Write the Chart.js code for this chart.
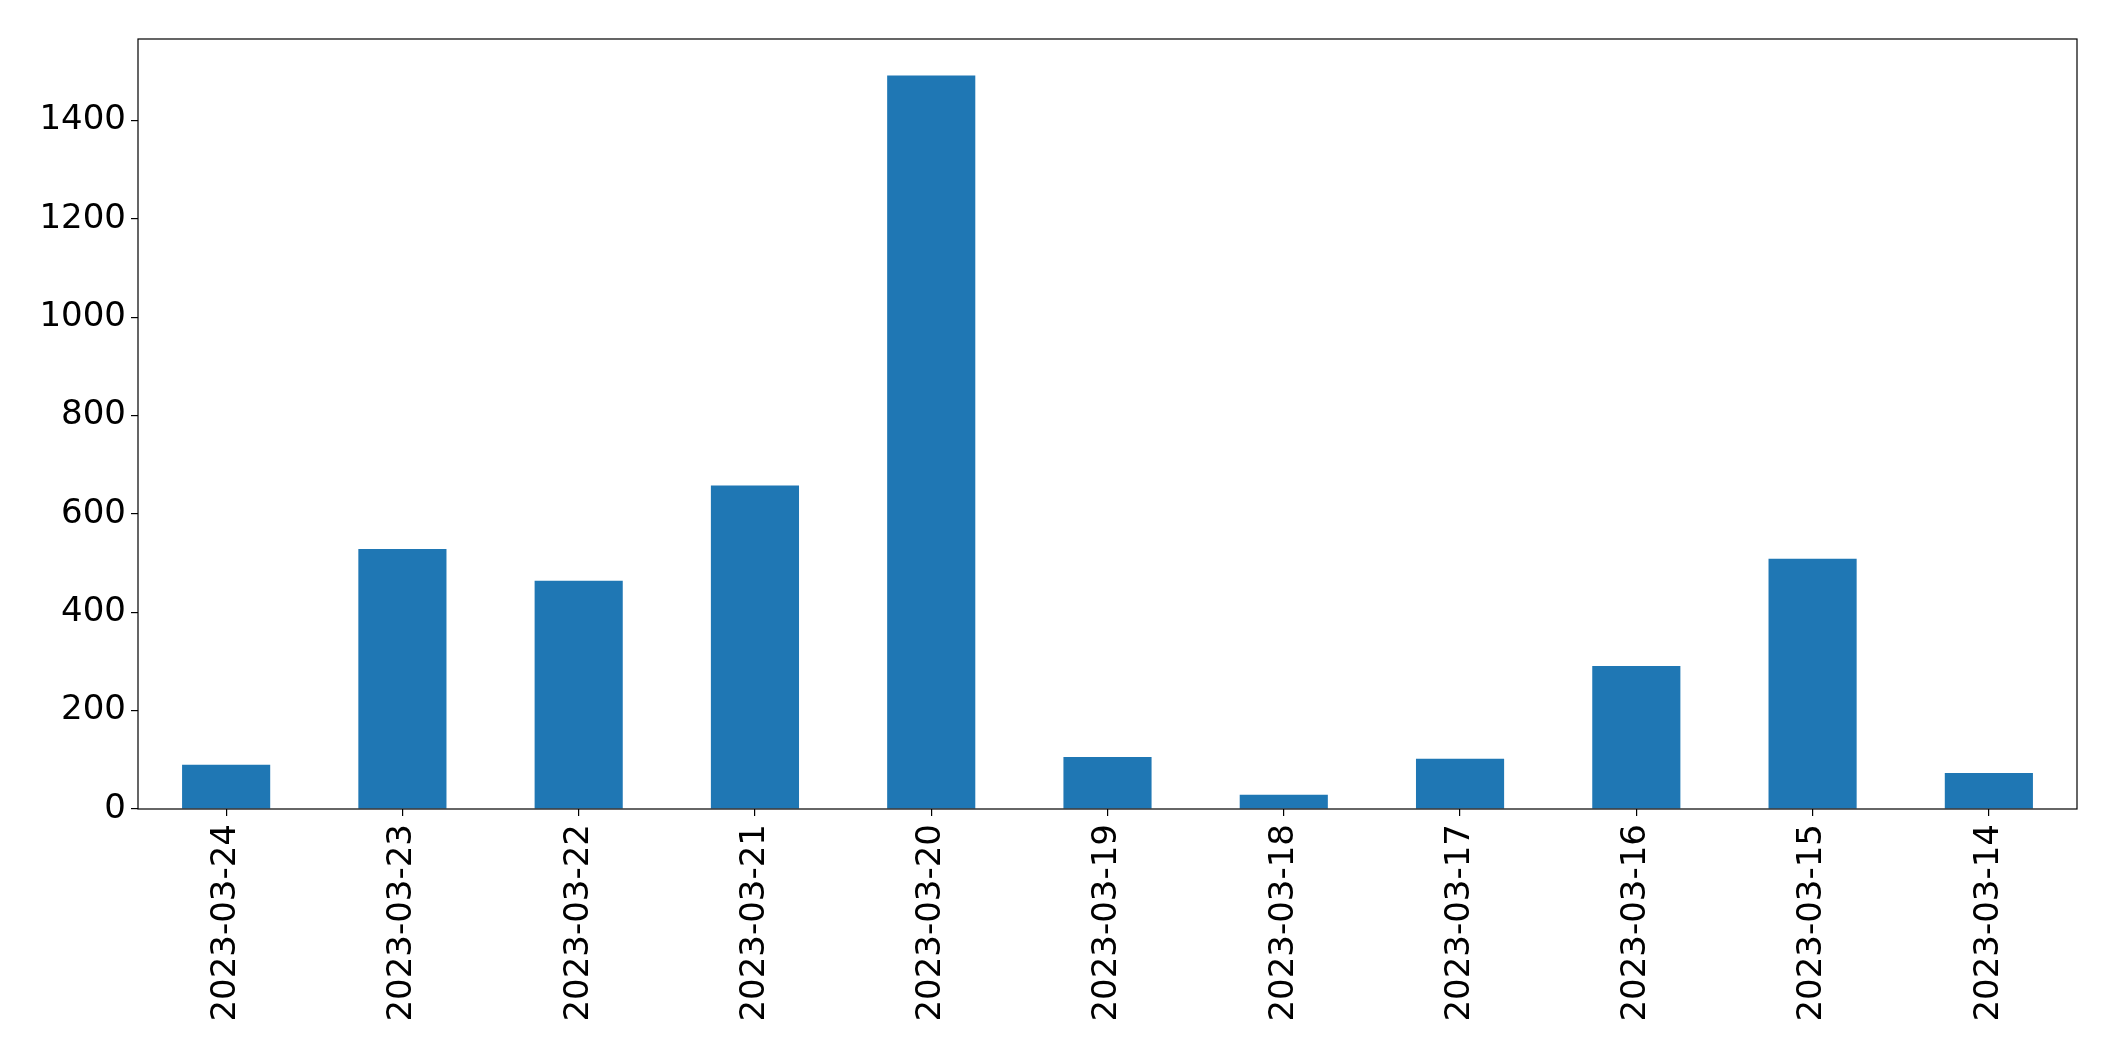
<!DOCTYPE html>
<html>
<head>
<meta charset="utf-8">
<script src="https://cdn.jsdelivr.net/npm/chart.js@4"></script>
<style>
    html, body { margin: 0; padding: 0; background: #fff; }
    #wrap { width: 2115px; height: 1061px; }
</style>
</head>
<body>
<div id="wrap"><canvas id="barChart" width="2115" height="1061"></canvas></div>
<script>
// values
const dates = ["2023-03-24", "2023-03-23", "2023-03-22", "2023-03-21", "2023-03-20", "2023-03-19",
    "2023-03-18", "2023-03-17", "2023-03-16", "2023-03-15", "2023-03-14"];
const counts = [90, 529, 464, 658, 1492, 106, 29, 102, 291, 509, 73];
const yTicks = [0, 200, 400, 600, 800, 1000, 1200, 1400];

// draw the full box round the plot, like matplotlib
const frame = {
    id: "frame",
    afterDraw(chart) {
        const a = chart.chartArea;
        const c = chart.ctx;
        c.save();
        c.strokeStyle = "#000";
        c.lineWidth = 1.2;
        c.strokeRect(a.left, a.top, a.right - a.left, a.bottom - a.top);
        c.restore();
    }
};

Chart.defaults.font.family = "'DejaVu Sans', sans-serif";
Chart.defaults.font.size = 34;
Chart.defaults.color = "#000";

new Chart(document.getElementById("barChart"), {
    type: "bar",
    data: {
        labels: dates,
        datasets: [{
            data: counts,
            backgroundColor: "#1f77b4",
            barPercentage: 0.5,
            categoryPercentage: 1.0
        }]
    },
    options: {
        responsive: false,
        animation: false,
        layout: { padding: { top: 39, right: 38, left: 0, bottom: 0 } },
        plugins: { legend: { display: false }, tooltip: { enabled: false } },
        scales: {
            x: {
                offset: true,
                grid: { display: true, drawOnChartArea: false, offset: false, color: "#000", tickLength: 7, lineWidth: 1.2 },
                border: { display: false },
                ticks: { minRotation: 90, maxRotation: 90, padding: 8, autoSkip: false },
                afterFit(scale) { scale.height = 252; }
            },
            y: {
                min: 0,
                max: 1566,
                grid: { display: true, drawOnChartArea: false, color: "#000", tickLength: 7, lineWidth: 1.2 },
                border: { display: false },
                ticks: { stepSize: 200, includeBounds: false, padding: 5, callback: v => String(v) },
                afterBuildTicks(scale) { scale.ticks = yTicks.map(v => ({ value: v })); },
                afterFit(scale) { scale.width = 138; }
            }
        }
    },
    plugins: [frame]
});
</script>
</body>
</html>
